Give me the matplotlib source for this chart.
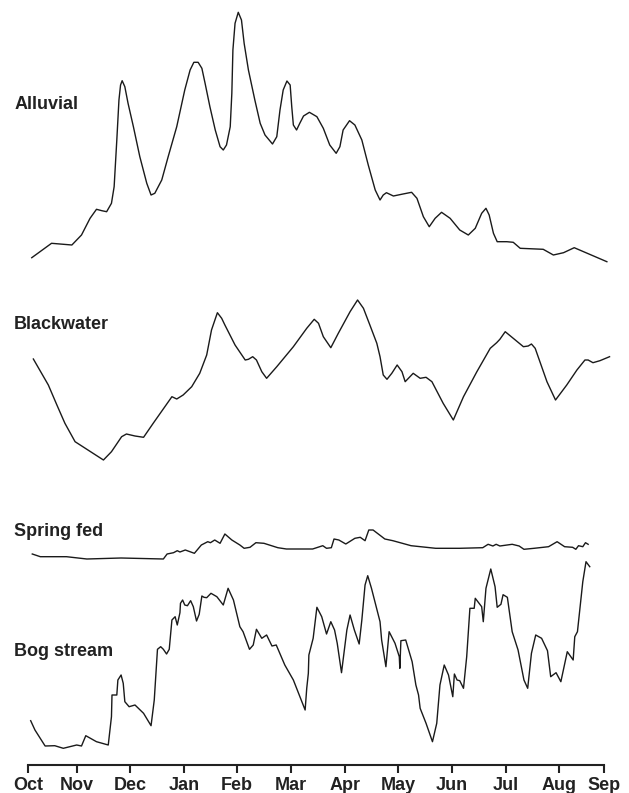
import matplotlib
matplotlib.use("Agg")
import matplotlib.pyplot as plt

plt.rcParams['font.family'] = ['Liberation Sans', 'DejaVu Sans']

# month ticks (x in months from 1 Oct)
months = ['Oct', 'Nov', 'Dec', 'Jan', 'Feb', 'Mar', 'Apr', 'May', 'Jun', 'Jul', 'Aug', 'Sep']
month_pos = [0, 0.916, 1.907, 2.916, 3.907, 4.916, 5.925, 6.916, 7.925, 8.935, 9.925, 10.766]

# relative discharge
alluvial_x = [0.07, 0.44, 0.82, 1.00, 1.16, 1.28, 1.38, 1.47, 1.56, 1.61, 1.66, 1.70, 1.73, 1.76,
              1.81, 1.87, 1.97, 2.09, 2.22, 2.30, 2.37, 2.50, 2.62, 2.78, 2.93, 3.03, 3.10, 3.18,
              3.25, 3.31, 3.40, 3.50, 3.59, 3.65, 3.71, 3.78, 3.81, 3.83, 3.87, 3.93, 3.99, 4.04,
              4.12, 4.24, 4.34, 4.43, 4.57, 4.65, 4.71, 4.77, 4.84, 4.90, 4.93, 4.96, 5.02, 5.08,
              5.15, 5.26, 5.40, 5.52, 5.64, 5.76, 5.83, 5.89, 6.01, 6.11, 6.24, 6.36, 6.49, 6.58,
              6.64, 6.70, 6.83, 7.01, 7.17, 7.27, 7.39, 7.50, 7.61, 7.73, 7.89, 8.07, 8.23, 8.36,
              8.48, 8.56, 8.62, 8.70, 8.77, 8.95, 9.07, 9.20, 9.63, 9.82, 10.01, 10.21, 10.82]
alluvial_y = [0.73, 2.17, 2.0, 3.0, 4.67, 5.57, 5.43, 5.33, 6.17, 7.83, 12.5, 16.5, 18.0, 18.43,
              17.83, 16.17, 13.83, 10.83, 8.17, 7.0, 7.17, 8.5, 10.83, 13.83, 17.5, 19.5, 20.27, 20.27,
              19.67, 18.17, 15.83, 13.5, 11.83, 11.5, 12.0, 13.83, 17.17, 21.5, 24.17, 25.27, 24.5, 22.17,
              19.5, 16.5, 14.17, 13.0, 12.1, 12.83, 15.5, 17.5, 18.4, 18.0, 15.83, 14.0, 13.5, 14.17,
              14.9, 15.27, 14.83, 13.67, 12.0, 11.17, 11.83, 13.5, 14.43, 14.0, 12.5, 10.0, 7.5, 6.5,
              7.0, 7.23, 6.9, 7.1, 7.27, 6.67, 4.83, 3.83, 4.67, 5.27, 4.67, 3.5, 3.0, 3.67,
              5.17, 5.67, 5.0, 3.17, 2.33, 2.33, 2.27, 1.67, 1.57, 1.0, 1.23, 1.73, 0.33]

blackwater_x = [0.10, 0.38, 0.54, 0.69, 0.88, 1.41, 1.56, 1.75, 1.84, 2.00, 2.16, 2.34, 2.69, 2.78,
                2.90, 3.06, 3.21, 3.34, 3.43, 3.54, 3.62, 3.68, 3.87, 4.06, 4.12, 4.20, 4.27, 4.37,
                4.46, 4.65, 4.96, 5.21, 5.35, 5.43, 5.52, 5.66, 5.80, 6.02, 6.16, 6.27, 6.39, 6.52,
                6.58, 6.64, 6.71, 6.80, 6.90, 6.99, 7.05, 7.20, 7.33, 7.44, 7.55, 7.76, 7.95, 8.14,
                8.39, 8.64, 8.76, 8.82, 8.92, 9.07, 9.26, 9.35, 9.41, 9.48, 9.70, 9.86, 10.07, 10.26,
                10.41, 10.47, 10.56, 10.69, 10.87]
blackwater_y = [10.6, 8.0, 6.0, 4.17, 2.33, 0.5, 1.33, 2.83, 3.1, 2.9, 2.77, 4.17, 6.83, 6.6,
                7.0, 7.83, 9.17, 11.0, 13.5, 15.23, 14.67, 14.0, 12.0, 10.5, 10.57, 10.83, 10.5, 9.33,
                8.67, 9.83, 11.83, 13.67, 14.57, 14.17, 12.83, 11.73, 13.17, 15.33, 16.5, 15.67, 14.0, 12.17,
                10.83, 9.0, 8.57, 9.17, 10.0, 9.33, 8.33, 9.17, 8.67, 8.77, 8.33, 6.17, 4.5, 6.83,
                9.33, 11.67, 12.23, 12.57, 13.33, 12.67, 11.83, 11.9, 12.1, 11.67, 8.33, 6.5, 8.0, 9.5,
                10.5, 10.5, 10.23, 10.43, 10.83]

spring_x = [0.08, 0.23, 0.72, 1.10, 1.74, 2.53, 2.60, 2.72, 2.79, 2.84, 2.94, 3.11, 3.24, 3.36,
            3.41, 3.49, 3.59, 3.68, 3.81, 3.96, 4.04, 4.15, 4.26, 4.41, 4.67, 4.83, 5.32, 5.51,
            5.58, 5.67, 5.72, 5.81, 5.94, 6.11, 6.21, 6.30, 6.37, 6.45, 6.67, 6.82, 7.16, 7.62,
            8.07, 8.50, 8.60, 8.69, 8.75, 8.82, 9.05, 9.18, 9.27, 9.46, 9.73, 9.89, 10.03, 10.18,
            10.24, 10.29, 10.37, 10.42, 10.47]
spring_y = [0.6, 0.33, 0.33, 0.1, 0.2, 0.1, 0.6, 0.73, 0.93, 0.8, 1.0, 0.67, 1.5, 1.83,
            1.73, 2.0, 1.67, 2.6, 2.0, 1.5, 1.17, 1.27, 1.73, 1.67, 1.23, 1.1, 1.1, 1.43,
            1.17, 1.23, 2.1, 2.0, 1.6, 2.17, 2.27, 1.93, 3.0, 3.0, 2.1, 1.93, 1.43, 1.17,
            1.17, 1.23, 1.57, 1.4, 1.57, 1.4, 1.57, 1.4, 1.07, 1.17, 1.33, 1.83, 1.33, 1.27,
            1.07, 1.43, 1.33, 1.73, 1.57]

bog_x = [0.05, 0.13, 0.32, 0.50, 0.66, 0.91, 1.00, 1.08, 1.28, 1.50, 1.56, 1.57, 1.66, 1.68,
         1.74, 1.78, 1.81, 1.89, 2.00, 2.16, 2.30, 2.36, 2.42, 2.48, 2.53, 2.59, 2.64, 2.69,
         2.75, 2.79, 2.84, 2.85, 2.89, 2.93, 2.98, 3.04, 3.09, 3.15, 3.20, 3.25, 3.29, 3.34,
         3.42, 3.53, 3.65, 3.74, 3.84, 3.96, 4.02, 4.14, 4.21, 4.27, 4.37, 4.46, 4.56, 4.64,
         4.80, 4.96, 5.18, 5.21, 5.24, 5.25, 5.33, 5.40, 5.49, 5.58, 5.66, 5.73, 5.78, 5.86,
         5.96, 6.02, 6.10, 6.19, 6.24, 6.30, 6.35, 6.42, 6.50, 6.58, 6.61, 6.69, 6.75, 6.86,
         6.94, 6.95, 6.97, 7.06, 7.18, 7.25, 7.30, 7.33, 7.44, 7.56, 7.64, 7.70, 7.78, 7.86,
         7.94, 7.97, 8.02, 8.07, 8.14, 8.20, 8.26, 8.34, 8.36, 8.48, 8.51, 8.56, 8.65, 8.73,
         8.77, 8.84, 8.88, 8.96, 9.05, 9.16, 9.27, 9.34, 9.41, 9.49, 9.60, 9.71, 9.77, 9.87,
         9.96, 10.08, 10.19, 10.22, 10.27, 10.37, 10.43, 10.50]
bog_y = [2.93, 2.0, 0.4, 0.43, 0.17, 0.5, 0.4, 1.43, 0.83, 0.5, 3.33, 5.5, 5.5, 7.0,
         7.5, 6.67, 4.83, 4.33, 4.5, 3.67, 2.43, 5.0, 10.07, 10.33, 10.07, 9.6, 10.07, 13.0,
         13.33, 12.5, 13.73, 14.67, 15.0, 14.5, 14.43, 14.93, 14.33, 12.9, 13.57, 15.4, 15.27, 15.23,
         15.67, 15.33, 14.5, 16.17, 15.0, 12.33, 11.83, 10.07, 10.5, 12.07, 11.17, 11.5, 10.4, 10.5,
         8.5, 7.0, 4.0, 6.17, 7.67, 9.5, 11.17, 14.27, 13.33, 11.6, 12.83, 12.0, 10.67, 7.73,
         12.0, 13.5, 12.0, 10.6, 13.0, 16.5, 17.43, 16.17, 14.5, 12.83, 11.0, 8.33, 11.83, 10.67,
         9.33, 8.17, 10.93, 11.0, 8.83, 6.5, 5.5, 4.17, 2.67, 0.83, 2.67, 6.5, 8.5, 7.5,
         5.33, 7.6, 7.0, 6.93, 6.17, 9.33, 14.17, 14.17, 15.17, 14.33, 12.83, 16.17, 18.1, 16.33,
         14.27, 14.57, 15.53, 15.27, 11.83, 10.0, 7.0, 6.17, 9.67, 11.5, 11.17, 9.93, 7.33, 7.73,
         6.83, 9.83, 9.0, 11.33, 11.83, 16.83, 18.83, 18.33]

fig = plt.figure(figsize=(6.29, 7.93), dpi=100)
ax = fig.add_axes([1.25 / 629, 28 / 793, 625.95 / 629, 765 / 793])

line_kw = dict(color='#1a1a1a', lw=1.0, solid_joinstyle='round')
# each stream stacked on its own baseline
series = [
    ('Alluvial', alluvial_x, alluvial_y, 50, 661),
    ('Blackwater', blackwater_x, blackwater_y, 30, 441),
    ('Spring fed', spring_x, spring_y, 20.5, 234),
    ('Bog stream', bog_x, bog_y, 1.5, 113),
]
for name, xs, ys, base, label_y in series:
    ax.plot(xs, [(v + base) * 10 for v in ys], **line_kw)
    ax.text(-0.26, label_y, name, fontsize=13, fontweight='bold', color='#222222',
            ha='left', va='center')

ax.set_xlim(-0.5, 11.2)
ax.set_ylim(0, 765)
ax.set_xticks(month_pos)
ax.set_xticklabels(months, fontsize=13, fontweight='bold', color='#222222')
ax.tick_params(axis='x', direction='out', length=6, width=1.5, pad=3, colors='#222222')
ax.set_yticks([])
for s in ['top', 'right', 'left']:
    ax.spines[s].set_visible(False)
ax.spines['bottom'].set_linewidth(1.5)
ax.spines['bottom'].set_color('#222222')
ax.spines['bottom'].set_bounds(0, month_pos[-1])
ax.patch.set_alpha(0)

fig.savefig('out.png', dpi=100)
